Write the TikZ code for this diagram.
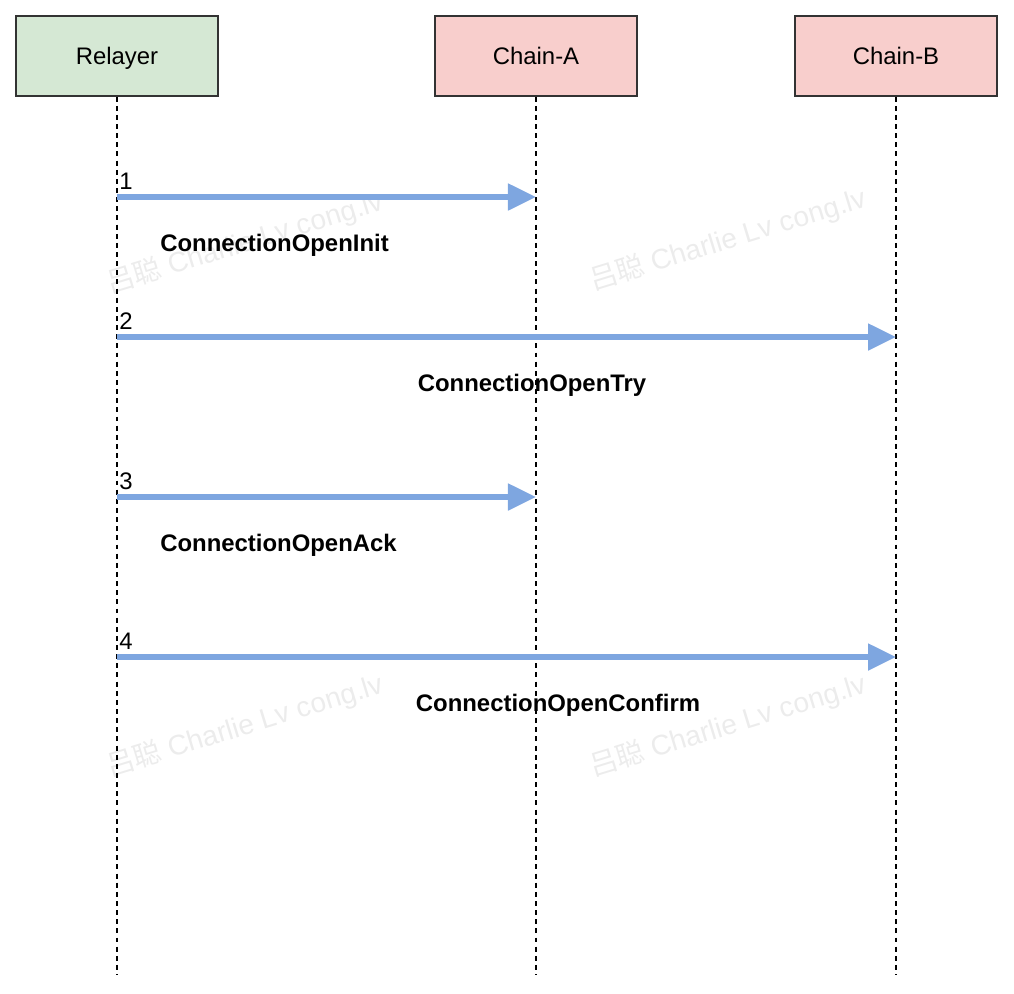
\documentclass[tikz,border=0pt]{standalone}
\usepackage{fontspec}
\setmainfont{Liberation Sans}
\newfontfamily\wmfont{Noto Sans CJK SC}
\usetikzlibrary{arrows.meta, positioning}
\definecolor{relayfill}{HTML}{D5E8D4}
\definecolor{chainfill}{HTML}{F8CECC}
\definecolor{msgblue}{HTML}{7EA6E0}
\definecolor{wmgray}{HTML}{ECECEC}

\begin{document}
\begin{tikzpicture}[
    x=0.025cm, y=-0.025cm,
    actor/.style={
        draw=black!80, line width=0.9pt,
        minimum width=5.05cm, minimum height=2cm,
        text height=12pt, text depth=0pt,
        inner sep=0pt, font=\fontsize{17}{20}\selectfont
    },
    life/.style={dash pattern=on 3.5pt off 3pt, line width=0.9pt},
    msg/.style={draw=msgblue, line width=3.6pt, -{Triangle[length=0.7cm, width=0.65cm, fill=msgblue]}},
    num/.style={inner sep=0pt, font=\fontsize{17}{20}\selectfont},
    lbl/.style={inner sep=0pt, font=\fontsize{17}{20}\selectfont\bfseries},
    wm/.style={text=wmgray, inner sep=0pt, rotate=17, font=\fontsize{20}{24}\selectfont}
]
\useasboundingbox (0,0) rectangle (1014,994);

% Watermarks (behind everything)
\node[wm] (wm1) at (245,243) {{\wmfont 吕聪} Charlie Lv cong.lv};
\node[wm] (wm2) at (728,240) {{\wmfont 吕聪} Charlie Lv cong.lv};
\node[wm] (wm3) at (245,726) {{\wmfont 吕聪} Charlie Lv cong.lv};
\node[wm] (wm4) at (728,726) {{\wmfont 吕聪} Charlie Lv cong.lv};

% Participants
\node[actor, fill=relayfill] (R) at (117,56) {Relayer};
\node[actor, fill=chainfill] (A) at (536,56) {Chain-A};
\node[actor, fill=chainfill] (B) at (896,56) {Chain-B};

% Lifelines
\coordinate (Rend) at (117,975);
\coordinate (Aend) at (536,975);
\coordinate (Bend) at (896,975);
\draw[life] (R.south) -- (Rend);
\draw[life] (A.south) -- (Aend);
\draw[life] (B.south) -- (Bend);

% Message points on the lifelines
\coordinate (R1) at (117,197);  \coordinate (A1) at (536,197);
\coordinate (R2) at (117,337);  \coordinate (B2) at (896,337);
\coordinate (R3) at (117,497);  \coordinate (A3) at (536,497);
\coordinate (R4) at (117,657);  \coordinate (B4) at (896,657);

% Messages
\draw[msg] (R1) -- (A1);
\draw[msg] (R2) -- (B2);
\draw[msg] (R3) -- (A3);
\draw[msg] (R4) -- (B4);

% Step numbers
\node[num] (n1) at (126,181) {1};
\node[num] (n2) at (126,321) {2};
\node[num] (n3) at (126,481) {3};
\node[num] (n4) at (126,641) {4};

% Message names
\node[lbl, anchor=west] (m1) at (160,245) {ConnectionOpenInit};
\node[lbl] (m2) at (532,385) {ConnectionOpenTry};
\node[lbl, anchor=west] (m3) at (160,545) {ConnectionOpenAck};
\node[lbl] (m4) at (558,705) {ConnectionOpenConfirm};

\end{tikzpicture}
\end{document}
